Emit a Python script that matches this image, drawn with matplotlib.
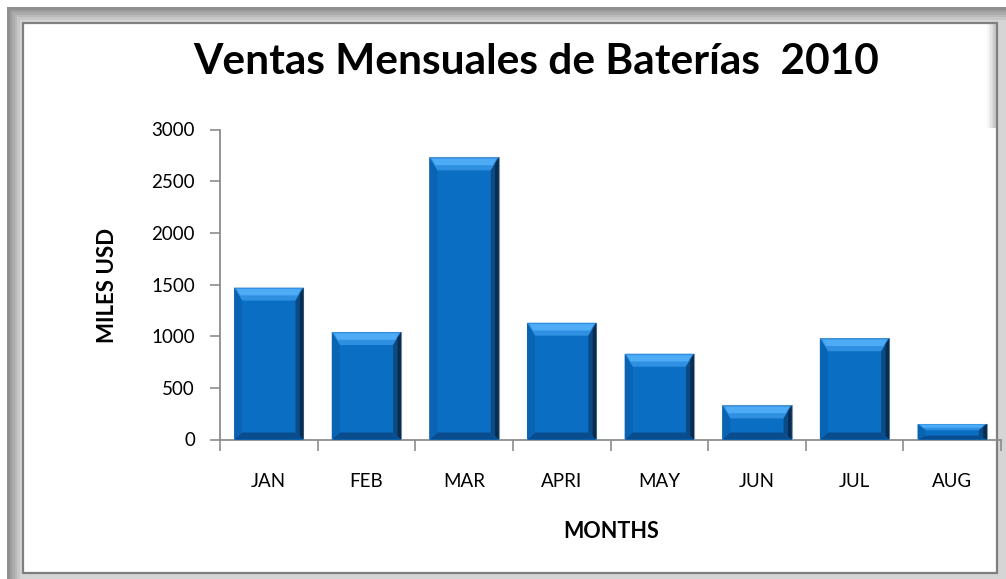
import matplotlib
matplotlib.use("Agg")
import matplotlib.pyplot as plt
from matplotlib.patches import Rectangle, Polygon
import numpy as np

months = ["JAN", "FEB", "MAR", "APRI", "MAY", "JUN", "JUL", "AUG"]
sales = [1470, 1040, 2730, 1130, 830, 330, 980, 150]
yticks = [0, 500, 1000, 1500, 2000, 2500, 3000]
title = "Ventas Mensuales de Baterías  2010"
xlabel = "MONTHS"
ylabel = "MILES USD"

W, H = 1006, 579
fig = plt.figure(figsize=(W / 100, H / 100), dpi=100)
fig.patch.set_facecolor("white")

def fx(px):
    return px / W

def fy(py):
    return 1 - py / H

# outer frame bands (gradient-ish gray)
band_cols = ["#8f8f8f", "#9d9d9d", "#ababab", "#b9b9b9", "#c7c7c7", "#d5d5d5"]
for i, c in enumerate(band_cols):
    off = 7 + i * 2.5
    fig.patches.append(Rectangle((fx(off), fy(579)), fx(1006 - off), fy(off) - fy(579),
                                 transform=fig.transFigure, facecolor=c, edgecolor="none", zorder=0))
# inner white panel
fig.patches.append(Rectangle((fx(23), fy(573)), fx(997 - 23), fy(23) - fy(573),
                             transform=fig.transFigure, facecolor="white", edgecolor="#7f7f7f",
                             linewidth=1.6, zorder=1))
# right shadow near top-right
for i, a in enumerate(np.linspace(0.0, 0.5, 8)):
    fig.patches.append(Rectangle((fx(986 + i * 1.4), fy(128)), fx(1.4), fy(24) - fy(128),
                                 transform=fig.transFigure, facecolor="#808080", alpha=a,
                                 edgecolor="none", zorder=1.5))

ax = fig.add_axes([fx(220), fy(439.5), fx(1001 - 220), fy(129.5) - fy(439.5)], zorder=2)
ax.set_facecolor("none")

x = np.arange(len(months))
bw = 0.71
main_c = "#0a6fc3"
bars = ax.bar(x, sales, width=bw, color=main_c, edgecolor="#8a9aa8", linewidth=0.8, zorder=3)

ax.set_xlim(-0.5, len(months) - 0.5)
ax.set_ylim(0, 3000)

# bevel effect derived from bar geometry
px_per_x = (1001 - 220) / len(months)
px_per_y = 310 / 3000
bx = 8 / px_per_x
for b in bars:
    x0 = b.get_x()
    x1 = x0 + b.get_width()
    h = b.get_height()
    by = min(13 / px_per_y, h * 0.4)
    bby = min(7 / px_per_y, h * 0.25)
    # top highlight
    ax.add_patch(Polygon([(x0, h), (x1, h), (x1 - bx, h - by), (x0 + bx, h - by)],
                         closed=True, facecolor="#2f8fe0", edgecolor="none", zorder=4))
    ax.add_patch(Polygon([(x0 + bx * 0.3, h - by * 0.1), (x1 - bx * 0.3, h - by * 0.1),
                          (x1 - bx * 0.75, h - by * 0.6), (x0 + bx * 0.75, h - by * 0.6)],
                         closed=True, facecolor="#4eabf5", edgecolor="none", zorder=4))
    # right dark side
    ax.add_patch(Polygon([(x1, h), (x1, 0), (x1 - bx, bby), (x1 - bx, h - by)],
                         closed=True, facecolor="#0b4a84", edgecolor="none", zorder=4))
    ax.add_patch(Polygon([(x1, h), (x1, 0), (x1 - bx * 0.45, bby * 0.45), (x1 - bx * 0.45, h - by * 0.45)],
                         closed=True, facecolor="#0a2c4e", edgecolor="none", zorder=4))
    # bottom dark
    ax.add_patch(Polygon([(x0, 0), (x1, 0), (x1 - bx, bby), (x0 + bx, bby)],
                         closed=True, facecolor="#094d8e", edgecolor="none", zorder=4))
    # left side slightly darker
    ax.add_patch(Polygon([(x0, h), (x0, 0), (x0 + bx, bby), (x0 + bx, h - by)],
                         closed=True, facecolor="#0964b4", edgecolor="none", zorder=4))

for s in ["top", "right"]:
    ax.spines[s].set_visible(False)
for s in ["left", "bottom"]:
    ax.spines[s].set_color("#8c8c8c")
    ax.spines[s].set_linewidth(1.3)

font = "Lato"
ax.set_yticks(yticks)
ax.set_yticklabels([str(v) for v in yticks], fontname=font, fontsize=13.5, color="black")
ax.tick_params(axis="y", direction="out", length=7, width=1.2, color="#8c8c8c", pad=11)

ax.set_xticks(x)
ax.set_xticklabels(months, fontname=font, fontsize=13.5, color="black")
ax.set_xticks(np.arange(len(months) + 1) - 0.5, minor=True)
ax.tick_params(axis="x", which="major", length=0, pad=24)
ax.tick_params(axis="x", which="minor", direction="out", length=8, width=1.2, color="#8c8c8c")

fig.text(fx(536), fy(62), title, ha="center", va="center", fontname=font,
         fontweight="bold", fontsize=30.5, color="black")
fig.text(fx(611), fy(531), xlabel, ha="center", va="center", fontname=font,
         fontweight="bold", fontsize=15.5, color="black")
fig.text(fx(107), fy(285), ylabel, ha="center", va="center", rotation=90, fontname=font,
         fontweight="bold", fontsize=16, color="black")

fig.savefig("out.png", dpi=100)
